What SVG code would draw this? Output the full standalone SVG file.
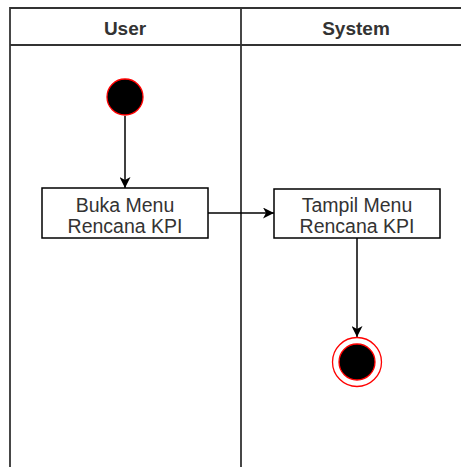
<svg xmlns="http://www.w3.org/2000/svg" width="461" height="467" viewBox="0 0 461 467">
<style>
.lane{fill:none;stroke:#333;stroke-width:1.8}
.t{font-family:"Liberation Sans",Arial,sans-serif;font-size:19.5px;fill:#333;text-anchor:middle}
.h{font-family:"Liberation Sans",Arial,sans-serif;font-size:19px;font-weight:bold;fill:#333;text-anchor:middle}
.box{fill:#fff;stroke:#000;stroke-width:1.5}
.edge{fill:none;stroke:#000;stroke-width:1.5}
</style>
<defs>
<marker id="arr" viewBox="0 0 11 11" refX="11" refY="5.5" markerWidth="11" markerHeight="11" markerUnits="userSpaceOnUse" orient="auto">
<path d="M0,0 L11,5.5 L0,11 L3,5.5 Z" fill="#000"/>
</marker>
</defs>
<rect width="461" height="467" fill="#fff"/>
<g id="pool">
<path class="lane" d="M10,467 V8 H470 M10,45 H470 M241,8 V467"/>
<text class="h" x="125" y="35">User</text>
<text class="h" x="356" y="35">System</text>
</g>
<g id="connectors">
<path class="edge" d="M125,116 V188" marker-end="url(#arr)"/>
<path class="edge" d="M208,213 H274" marker-end="url(#arr)"/>
<path class="edge" d="M357,238 V337" marker-end="url(#arr)"/>
</g>
<g id="start">
<circle cx="125" cy="97" r="18" fill="#000" stroke="#f00" stroke-width="1.3"/>
</g>
<g id="buka">
<rect class="box" x="42" y="188" width="166" height="50"/>
<text class="t" x="125" y="212">Buka Menu</text>
<text class="t" x="125" y="233">Rencana KPI</text>
</g>
<g id="tampil">
<rect class="box" x="274" y="189" width="166" height="49"/>
<text class="t" x="357" y="212">Tampil Menu</text>
<text class="t" x="357" y="233">Rencana KPI</text>
</g>
<g id="end">
<circle cx="357" cy="362" r="24.5" fill="#fff" stroke="#f00" stroke-width="1.3"/>
<circle cx="357" cy="362" r="18" fill="#000" stroke="#f00" stroke-width="1.3"/>
</g>
</svg>
